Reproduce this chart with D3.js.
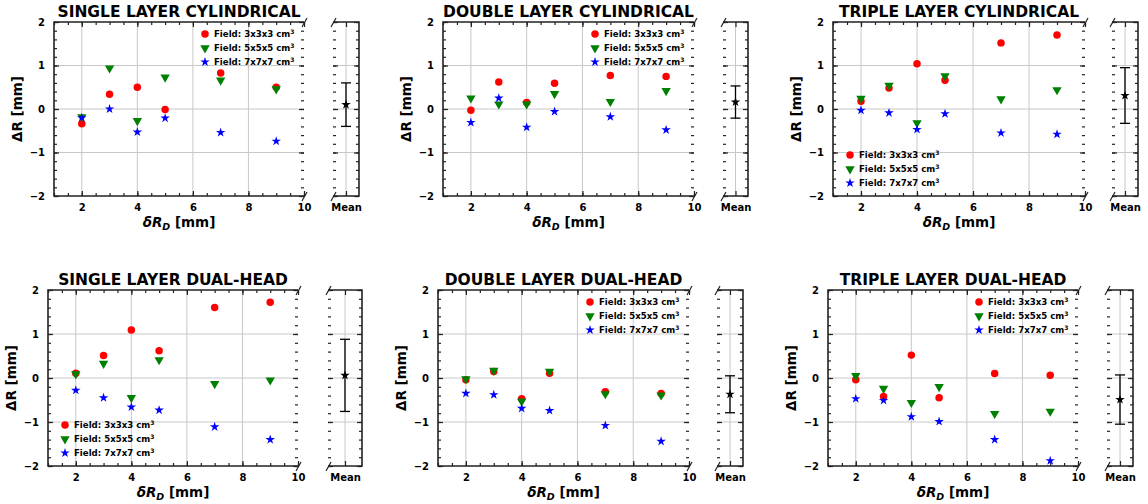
<!DOCTYPE html>
<html>
<head>
<meta charset="utf-8">
<script src="https://cdn.jsdelivr.net/npm/d3@7"></script>
<style>
body { margin: 0; background: #fff; }
text { font-family: "DejaVu Sans", sans-serif; font-weight: bold; fill: #000; }
</style>
</head>
<body>
<svg id="chart" width="1148" height="504"></svg>
<script>
// delta R_D positions [mm]
var dRD = [2, 3, 4, 5, 7, 9];
var fieldNames = ['Field: 3x3x3 cm', 'Field: 5x5x5 cm', 'Field: 7x7x7 cm'];
var titles = ['SINGLE LAYER CYLINDRICAL', 'DOUBLE LAYER CYLINDRICAL', 'TRIPLE LAYER CYLINDRICAL',
	'SINGLE LAYER DUAL-HEAD', 'DOUBLE LAYER DUAL-HEAD', 'TRIPLE LAYER DUAL-HEAD'];
var xTicks = [2, 4, 6, 8, 10];
var yTicks = [-2, -1, 0, 1, 2];

// Delta R [mm] per field size
var singleCyl3 = [-0.34, 0.34, 0.50, -0.01, 0.83, 0.50];
var singleCyl5 = [-0.18, 0.94, -0.27, 0.73, 0.66, 0.46];
var singleCyl7 = [-0.20, 0.00, -0.53, -0.21, -0.54, -0.74];
var doubleCyl3 = [-0.03, 0.62, 0.15, 0.59, 0.77, 0.75];
var doubleCyl5 = [0.25, 0.11, 0.11, 0.35, 0.17, 0.42];
var doubleCyl7 = [-0.31, 0.25, -0.42, -0.06, -0.18, -0.48];
var tripleCyl3 = [0.18, 0.48, 1.04, 0.66, 1.52, 1.70];
var tripleCyl5 = [0.24, 0.54, -0.32, 0.76, 0.23, 0.44];
var tripleCyl7 = [-0.03, -0.09, -0.47, -0.11, -0.55, -0.58];
var singleDH3 = [0.11, 0.51, 1.09, 0.62, 1.60, 1.72];
var singleDH5 = [0.09, 0.33, -0.45, 0.41, -0.13, -0.05];
var singleDH7 = [-0.28, -0.45, -0.66, -0.73, -1.11, -1.40];
var doubleDH3 = [-0.04, 0.15, -0.47, 0.11, -0.31, -0.35];
var doubleDH5 = [-0.02, 0.17, -0.53, 0.15, -0.36, -0.39];
var doubleDH7 = [-0.35, -0.38, -0.69, -0.74, -1.08, -1.44];
var tripleDH3 = [-0.04, -0.42, 0.52, -0.45, 0.10, 0.06];
var tripleDH5 = [0.05, -0.24, -0.56, -0.20, -0.81, -0.76];
var tripleDH7 = [-0.47, -0.51, -0.88, -0.99, -1.40, -1.88];

var meanVals = [0.10, 0.16, 0.31, 0.06, -0.37, -0.49];
var meanErrs = [0.50, 0.37, 0.64, 0.82, 0.42, 0.56];

var panelSeries = [
	[singleCyl3, singleCyl5, singleCyl7],
	[doubleCyl3, doubleCyl5, doubleCyl7],
	[tripleCyl3, tripleCyl5, tripleCyl7],
	[singleDH3, singleDH5, singleDH7],
	[doubleDH3, doubleDH5, doubleDH7],
	[tripleDH3, tripleDH5, tripleDH7]
];

// layout: main plot + mean box, legend corner
var layout = [
	{ l: 54, r: 304, ml: 333, mr: 359, t: 22, b: 196, leg: 'ur' },
	{ l: 443, r: 694, ml: 723, mr: 748, t: 22, b: 196, leg: 'ur' },
	{ l: 833, r: 1085, ml: 1112, mr: 1138, t: 22, b: 196, leg: 'll' },
	{ l: 48, r: 298, ml: 328, mr: 362, t: 290, b: 466, leg: 'll' },
	{ l: 438, r: 689, ml: 717, mr: 743, t: 290, b: 466, leg: 'ur' },
	{ l: 828, r: 1078, ml: 1107, mr: 1133, t: 290, b: 466, leg: 'ur' }
];

var colors = ['#ff0000', '#008000', '#0000ff'];
var symbols = [
	d3.symbol().type(d3.symbolCircle).size(44)(),
	d3.symbol().type(d3.symbolTriangle).size(38)(),
	d3.symbol().type(d3.symbolStar).size(28)()
];
var rotations = [0, 180, 0];
var spineColor = '#222';
var gridColor = '#c8c8c8';

const svg = d3.select('#chart');

function noDomain(g) { g.select('.domain').remove(); }

function drawPanel(i) {
	var p = layout[i];
	var g = svg.append('g');
	var x = d3.scaleLinear().domain([1, 10]).range([p.l, p.r]);
	var y = d3.scaleLinear().domain([-2, 2]).range([p.b, p.t]);
	var xm = d3.scaleLinear().domain([-1, 1]).range([p.ml, p.mr]);
	var minorY = d3.range(-2, 2.001, 0.2).map(function (d) { return +d.toFixed(1); });
	var minorX = d3.range(1, 10.001, 0.5);

	// grid
	g.selectAll('.vg').data(xTicks.slice(0, 4)).enter().append('line')
		.attr('x1', function (d) { return x(d); }).attr('x2', function (d) { return x(d); })
		.attr('y1', p.t).attr('y2', p.b).attr('stroke', gridColor).attr('stroke-width', 1);
	g.selectAll('.hg').data([-1, 0, 1]).enter().append('line')
		.attr('x1', p.l).attr('x2', p.r)
		.attr('y1', function (d) { return y(d); }).attr('y2', function (d) { return y(d); })
		.attr('stroke', gridColor).attr('stroke-width', 1);
	g.selectAll('.hgm').data([-1, 0, 1]).enter().append('line')
		.attr('x1', p.ml).attr('x2', p.mr)
		.attr('y1', function (d) { return y(d); }).attr('y2', function (d) { return y(d); })
		.attr('stroke', gridColor).attr('stroke-width', 1);
	g.append('line').attr('x1', xm(0)).attr('x2', xm(0)).attr('y1', p.t).attr('y2', p.b)
		.attr('stroke', gridColor).attr('stroke-width', 1);

	// axes (ticks inward)
	var axes = g.append('g').attr('font-size', 14);
	axes.append('g').attr('transform', 'translate(' + p.l + ',0)')
		.call(d3.axisLeft(y).tickValues(yTicks).tickSize(-5).tickPadding(9).tickFormat(d3.format('d'))).call(noDomain);
	axes.append('g').attr('transform', 'translate(' + p.l + ',0)')
		.call(d3.axisLeft(y).tickValues(minorY).tickSize(-3).tickFormat('')).call(noDomain);
	axes.append('g').attr('transform', 'translate(' + p.r + ',0)')
		.call(d3.axisRight(y).tickValues(yTicks).tickSize(-5).tickFormat('')).call(noDomain);
	axes.append('g').attr('transform', 'translate(' + p.r + ',0)')
		.call(d3.axisRight(y).tickValues(minorY).tickSize(-3).tickFormat('')).call(noDomain);
	axes.append('g').attr('transform', 'translate(0,' + p.b + ')')
		.call(d3.axisBottom(x).tickValues(xTicks).tickSize(-5).tickPadding(8).tickFormat(d3.format('d'))).call(noDomain);
	axes.append('g').attr('transform', 'translate(0,' + p.b + ')')
		.call(d3.axisBottom(x).tickValues(minorX).tickSize(-3).tickFormat('')).call(noDomain);
	axes.append('g').attr('transform', 'translate(0,' + p.t + ')')
		.call(d3.axisTop(x).tickValues(xTicks).tickSize(-5).tickFormat('')).call(noDomain);
	axes.append('g').attr('transform', 'translate(0,' + p.t + ')')
		.call(d3.axisTop(x).tickValues(minorX).tickSize(-3).tickFormat('')).call(noDomain);
	// mean box axes
	axes.append('g').attr('transform', 'translate(' + p.ml + ',0)')
		.call(d3.axisLeft(y).tickValues(yTicks).tickSize(-5).tickFormat('')).call(noDomain);
	axes.append('g').attr('transform', 'translate(' + p.ml + ',0)')
		.call(d3.axisLeft(y).tickValues(minorY).tickSize(-3).tickFormat('')).call(noDomain);
	axes.append('g').attr('transform', 'translate(' + p.mr + ',0)')
		.call(d3.axisRight(y).tickValues(yTicks).tickSize(-5).tickFormat('')).call(noDomain);
	axes.append('g').attr('transform', 'translate(' + p.mr + ',0)')
		.call(d3.axisRight(y).tickValues(minorY).tickSize(-3).tickFormat('')).call(noDomain);
	axes.append('g').attr('transform', 'translate(0,' + p.b + ')')
		.call(d3.axisBottom(xm).tickValues([0]).tickSize(-5).tickPadding(8).tickFormat(function () { return 'Mean'; })).call(noDomain);
	axes.append('g').attr('transform', 'translate(0,' + p.t + ')')
		.call(d3.axisTop(xm).tickValues([0]).tickSize(-5).tickFormat('')).call(noDomain);
	axes.selectAll('.tick line').attr('stroke', spineColor).attr('stroke-width', 1.2);
	axes.selectAll('.tick text').attr('fill', '#000').attr('font-weight', 'bold')
		.attr('font-family', '"DejaVu Sans", sans-serif');

	// spines
	var sp = g.append('g').attr('stroke', spineColor).attr('stroke-width', 1.6).attr('fill', 'none');
	sp.append('path').attr('d', 'M' + p.r + ',' + p.t + 'H' + p.l + 'V' + p.b + 'H' + p.r);
	sp.append('path').attr('d', 'M' + p.ml + ',' + p.t + 'H' + p.mr + 'V' + p.b + 'H' + p.ml);
	// break marks
	[[p.r, p.t], [p.r, p.b], [p.ml, p.t], [p.ml, p.b]].forEach(function (c) {
		sp.append('line').attr('x1', c[0] - 2).attr('y1', c[1] + 5).attr('x2', c[0] + 3).attr('y2', c[1] - 4)
			.attr('stroke-width', 1.2);
	});

	// data points
	var pts = g.append('g');
	panelSeries[i].forEach(function (vals, s) {
		pts.selectAll('.s' + s).data(vals).enter().append('path')
			.attr('d', symbols[s])
			.attr('fill', colors[s])
			.attr('transform', function (d, k) {
				return 'translate(' + x(dRD[k]) + ',' + y(d) + ') rotate(' + rotations[s] + ')';
			});
	});

	// mean with error bar
	var mx = xm(0);
	var mg = g.append('g').attr('stroke', '#000').attr('stroke-width', 1.3);
	mg.append('line').attr('x1', mx).attr('x2', mx)
		.attr('y1', y(meanVals[i] - meanErrs[i])).attr('y2', y(meanVals[i] + meanErrs[i]));
	[meanVals[i] - meanErrs[i], meanVals[i] + meanErrs[i]].forEach(function (v) {
		mg.append('line').attr('x1', mx - 5).attr('x2', mx + 5).attr('y1', y(v)).attr('y2', y(v));
	});
	g.append('path').attr('d', symbols[2]).attr('fill', '#000')
		.attr('transform', 'translate(' + mx + ',' + y(meanVals[i]) + ')');

	// legend
	var lx, ly;
	if (p.leg === 'ur') { lx = p.r - 99; ly = p.t + 12; }
	else { lx = p.l + 17; ly = p.b - 41; }
	var leg = g.append('g');
	fieldNames.forEach(function (name, s) {
		leg.append('path').attr('d', symbols[s]).attr('fill', colors[s])
			.attr('transform', 'translate(' + lx + ',' + (ly + s * 14) + ') rotate(' + rotations[s] + ')');
		var t = leg.append('text').attr('x', lx + 9).attr('y', ly + s * 14 + 3).attr('font-size', 8.6);
		t.append('tspan').text(name);
		t.append('tspan').text('3').attr('font-size', 6).attr('dy', -3);
	});

	// title and labels
	g.append('text').attr('x', (p.l + p.r) / 2).attr('y', p.t - 5)
		.attr('text-anchor', 'middle').attr('font-size', 15.5).text(titles[i]);
	var xl = g.append('text').attr('x', (p.l + p.r) / 2).attr('y', p.b + 31)
		.attr('text-anchor', 'middle').attr('font-size', 13.5);
	xl.append('tspan').text('δR').attr('font-style', 'italic');
	xl.append('tspan').text('D').attr('font-style', 'italic').attr('font-size', 9.5).attr('dy', 3);
	xl.append('tspan').text(' [mm]').attr('dy', -3);
	g.append('text').attr('transform', 'translate(' + (p.l - 32) + ',' + ((p.t + p.b) / 2) + ') rotate(-90)')
		.attr('text-anchor', 'middle').attr('font-size', 13.5).text('ΔR [mm]');
}

for (var i = 0; i < 6; i++) drawPanel(i);
</script>
</body>
</html>
